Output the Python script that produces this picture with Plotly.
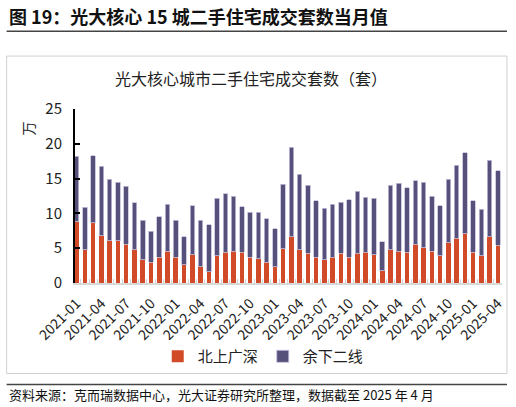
import plotly.graph_objects as go

# 2021-01 .. 2025-04, 单位：万套
months = [f"{y}-{m:02d}" for y in range(2021, 2026) for m in range(1, 13)][:52]

tier1 = [8.8, 4.8, 8.65, 6.8, 6.05, 6.05, 5.6, 4.8, 3.35, 3.0, 3.7, 4.55,
         3.7, 2.65, 4.05, 2.3, 1.6, 3.9, 4.4, 4.55, 4.4, 3.7, 3.5, 3.0,
         2.3, 4.9, 6.65, 4.8, 4.25, 3.7, 3.35, 3.7, 4.25, 3.7, 4.25, 4.4,
         4.05, 1.75, 4.8, 4.55, 4.4, 5.6, 5.1, 4.55, 3.9, 5.75, 6.45, 7.1,
         4.4, 3.9, 6.65, 5.45]

total = [18.2, 10.9, 18.3, 16.8, 14.9, 14.5, 13.9, 11.5, 9.0, 7.45, 9.55, 11.3,
         9.0, 6.65, 11.1, 9.0, 8.35, 12.2, 12.8, 12.5, 10.95, 10.2, 10.2, 9.2,
         7.8, 14.2, 19.5, 15.6, 14.05, 11.8, 10.75, 11.3, 11.6, 11.95, 13.2, 12.3,
         12.15, 5.9, 14.05, 14.35, 13.7, 14.7, 14.5, 12.5, 11.1, 14.9, 16.95, 18.7,
         11.8, 10.6, 17.65, 16.1]

others = [round(t - a, 2) for t, a in zip(total, tier1)]

tick_text = [m if i % 3 == 0 else "" for i, m in enumerate(months)]

FONT = "Noto Sans CJK SC"

W, H = 516, 407
# plot area in pixels
PL, PR, PT, PB = 75, 506, 109, 283.3


def px(x):
    return (x - PL) / (PR - PL)


def py(y):
    return (PB - y) / (PB - PT)


fig = go.Figure()
fig.add_trace(go.Bar(x=months, y=tier1, name="北上广深",
                     marker=dict(color="#d24b28", line=dict(width=0))))
fig.add_trace(go.Bar(x=months, y=others, name="余下二线",
                     marker=dict(color="#56517b", line=dict(color="#c3bfdb", width=0.8))))

fig.update_layout(
    barmode="stack",
    bargap=0.45,
    width=W, height=H,
    margin=dict(l=PL, r=W - PR, t=PT, b=H - PB),
    paper_bgcolor="white", plot_bgcolor="white",
    font=dict(family=FONT, color="#222"),
    showlegend=True,
    legend=dict(orientation="h", x=px(265), y=py(357), xanchor="center", yanchor="middle",
                font=dict(size=15, color="#222"), itemwidth=30, traceorder="normal"),
    shapes=[
        dict(type="rect", xref="paper", yref="paper", x0=px(6), x1=px(511), y0=py(374), y1=py(56),
             line=dict(color="#d0d0d0", width=1), layer="below"),
        dict(type="line", xref="paper", yref="paper", x0=px(6), x1=px(511), y0=py(31), y1=py(31),
             line=dict(color="#444", width=1.5)),
        dict(type="line", xref="paper", yref="paper", x0=px(6), x1=px(511), y0=py(385), y1=py(385),
             line=dict(color="#444", width=1.5)),
    ],
    annotations=[
        dict(text="<b>图 19：光大核心 15 城二手住宅成交套数当月值</b>", xref="paper", yref="paper",
             x=px(6), y=py(15.5), xanchor="left", yanchor="middle", showarrow=False,
             font=dict(size=18, color="#111")),
        dict(text="光大核心城市二手住宅成交套数（套）", xref="paper", yref="paper",
             x=px(253), y=py(78), xanchor="center", yanchor="middle", showarrow=False,
             font=dict(size=16, color="#222")),
        dict(text="资料来源：克而瑞数据中心，光大证券研究所整理，数据截至 2025 年 4 月", xref="paper", yref="paper",
             x=px(6), y=py(395), xanchor="left", yanchor="middle", showarrow=False,
             font=dict(size=13, color="#111")),
        dict(text="万", xref="paper", yref="paper", textangle=-90,
             x=px(28), y=py(128), xanchor="center", yanchor="middle", showarrow=False,
             font=dict(size=14, color="#222")),
    ],
)

fig.update_yaxes(range=[0, 25], dtick=5, showgrid=False, zeroline=False,
                 showline=True, linecolor="black", linewidth=2,
                 ticks="inside", ticklen=5, tickwidth=2, tickcolor="black",
                 ticklabelstandoff=8, tickfont=dict(size=15, color="#222"))

fig.update_xaxes(type="category", range=[-0.2, 51.5], tickmode="array",
                 tickvals=months, ticktext=tick_text, tickangle=-45,
                 tickson="boundaries", ticks="inside", ticklen=4, tickcolor="#d0d0d0",
                 showline=True, linecolor="#d9d9d9", linewidth=1.5, showgrid=False,
                 ticklabelstandoff=5, tickfont=dict(size=14, color="#222"))

# the page's default 8px body margin would push the 516x407 figure out of the window
fig.write_html("out.html", config={"displayModeBar": False},
               post_script="document.body.style.margin='0';")
